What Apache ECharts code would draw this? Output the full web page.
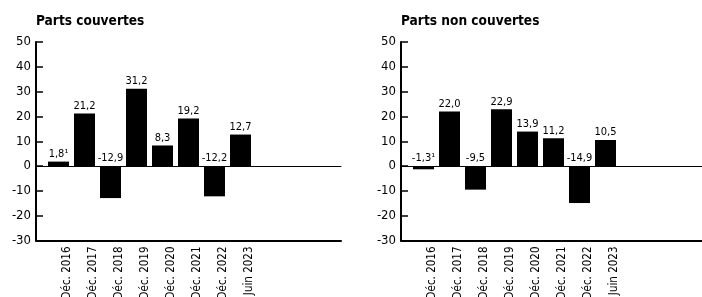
<!DOCTYPE html>
<html>
<head>
<meta charset="utf-8">
<style>
  html, body { margin: 0; padding: 0; background: #fff; }
  #chart { width: 702px; height: 297px; }
</style>
<script src="https://cdn.jsdelivr.net/npm/echarts/dist/echarts.min.js"></script>
</head>
<body>
<div id="chart"></div>
<script>
// données
const categories = ["Déc. 2016", "Déc. 2017", "Déc. 2018", "Déc. 2019", "Déc. 2020", "Déc. 2021", "Déc. 2022", "Juin 2023"];
const partsCouvertes = [1.8, 21.2, -12.9, 31.2, 8.3, 19.2, -12.2, 12.7];
const partsNonCouvertes = [-1.3, 22.0, -9.5, 22.9, 13.9, 11.2, -14.9, 10.5];
const panelTitles = ["Parts couvertes", "Parts non couvertes"];
const footnoteIndex = 0; // "1" en exposant sur la première valeur
const yMin = -30, yMax = 50, yStep = 10;

const font = "'DejaVu Sans Condensed', 'Liberation Sans Narrow', sans-serif";
const chart = echarts.init(document.getElementById("chart"));

// position de chaque panneau (axe vertical, fin de l'axe horizontal)
const panels = [
  { axisX: 36, endX: 341, data: partsCouvertes },
  { axisX: 401, endX: 702, data: partsNonCouvertes }
];
const gridTop = 42, gridHeight = 198.5, band = 26;

const fmt = v => v.toFixed(1).replace(".", ",");

const grid = [], xAxis = [], yAxis = [], series = [], title = [];

panels.forEach((p, i) => {
  const outer = grid.length;
  grid.push({ left: p.axisX, top: gridTop, width: p.endX - p.axisX, height: gridHeight, outerBoundsMode: "none", containLabel: false });
  const inner = grid.length;
  grid.push({ left: p.axisX + 9.5, top: gridTop, width: band * categories.length, height: gridHeight, outerBoundsMode: "none", containLabel: false });

  title.push({
    text: panelTitles[i],
    left: p.axisX,
    top: 14,
    padding: 0,
    textStyle: { fontFamily: font, fontSize: 13.6, fontWeight: "bold", color: "#000" }
  });

  // axe vertical visible
  yAxis.push({
    type: "value", gridIndex: outer, min: yMin, max: yMax, interval: yStep,
    axisLine: { show: true, lineStyle: { color: "#000", width: 2 } },
    axisTick: { show: true, inside: true, length: 7, lineStyle: { color: "#000", width: 1.5 } },
    axisLabel: { fontFamily: font, fontSize: 13, color: "#000", margin: 5 },
    splitLine: { show: false }
  });
  const yInner = yAxis.length;
  yAxis.push({ type: "value", gridIndex: inner, min: yMin, max: yMax, interval: yStep, show: false });

  // ligne du bas
  xAxis.push({
    type: "value", gridIndex: outer, min: 0, max: 1, position: "bottom",
    axisLine: { show: true, onZero: false, lineStyle: { color: "#000", width: 2 } },
    axisTick: { show: false }, axisLabel: { show: false }, splitLine: { show: false }
  });
  // ligne du zéro
  xAxis.push({
    type: "value", gridIndex: outer, min: 0, max: 1, position: "top",
    axisLine: { show: true, onZero: true, lineStyle: { color: "#000", width: 1 } },
    axisTick: { show: false }, axisLabel: { show: false }, splitLine: { show: false }
  });
  // catégories
  const xCat = xAxis.length;
  xAxis.push({
    type: "category", gridIndex: inner, data: categories, position: "bottom",
    axisLine: { show: false, onZero: false }, axisTick: { show: false },
    axisLabel: {
      rotate: 90, interval: 0, margin: 6, fontFamily: font, fontSize: 11.5, color: "#000",
      verticalAlign: "top", lineHeight: 17
    }
  });

  series.push({
    type: "bar",
    xAxisIndex: xCat,
    yAxisIndex: yInner,
    data: p.data,
    barWidth: 21,
    itemStyle: { color: "#000" },
    label: {
      show: true, position: "top", distance: 2,
      fontFamily: font, fontSize: 11, color: "#000",
      formatter: d => fmt(d.value) + (d.dataIndex === footnoteIndex ? "¹" : "")
    }
  });
});

chart.setOption({ animation: false, title, grid, xAxis, yAxis, series });
</script>
</body>
</html>
